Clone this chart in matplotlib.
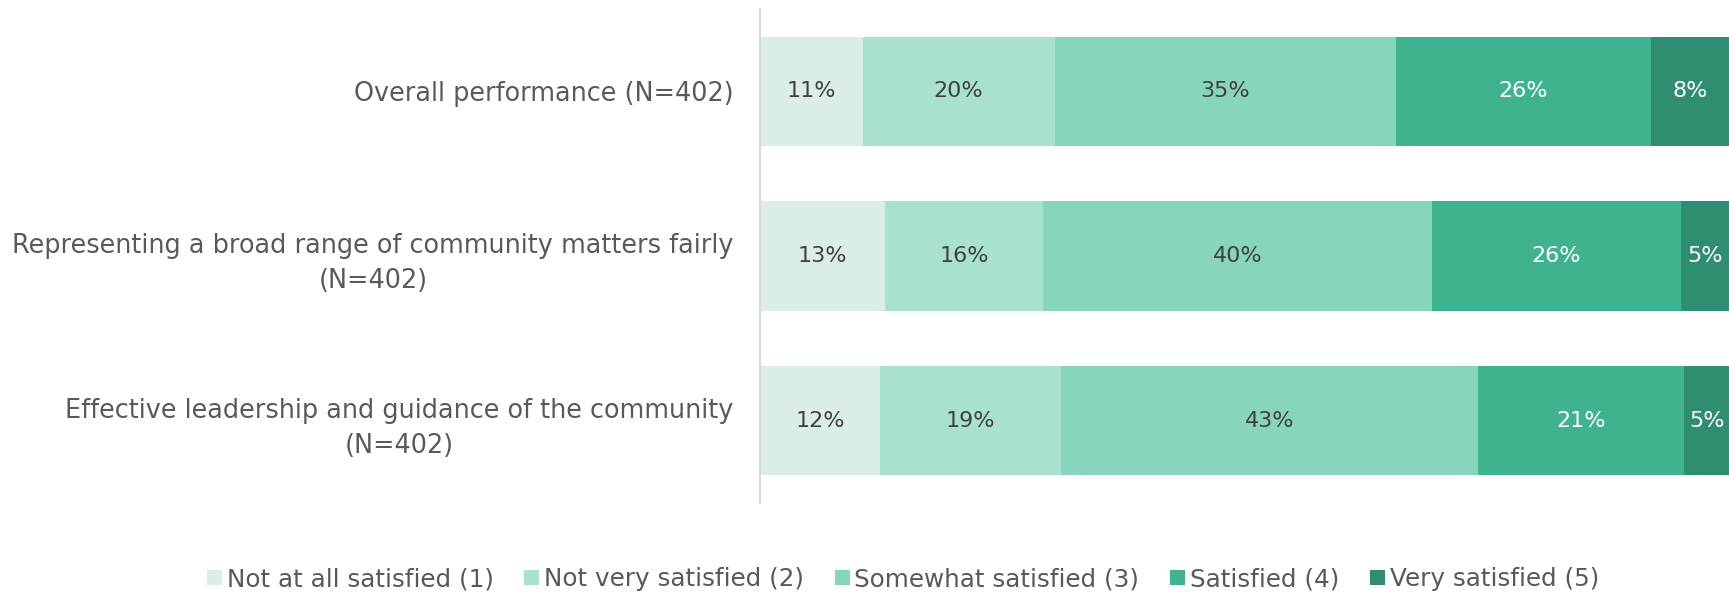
import numpy as np
import matplotlib
matplotlib.use('Agg')
import matplotlib.pyplot as plt

plt.rcParams['font.family'] = ['DejaVu Sans']

categorias = ['Overall performance (N=402)',
              'Representing a broad range of community matters fairly\n(N=402)',
              'Effective leadership and guidance of the community\n(N=402)']
niveles = ['Not at all satisfied (1)', 'Not very satisfied (2)', 'Somewhat satisfied (3)',
           'Satisfied (4)', 'Very satisfied (5)']
# porcentajes por nivel (fila = nivel, columna = categoria)
nada = [10.6, 12.9, 12.4]
poco = [19.8, 16.3, 18.7]
algo = [35.2, 40.2, 43.0]
satisfecho = [26.4, 25.6, 21.3]
muy = [8.0, 5.0, 4.6]

colores = ['#DAEEE7', '#A9E1D0', '#88D5BE', '#3FB390', '#2F8E72']
color_texto = ['#404040', '#404040', '#404040', 'white', 'white']

fig = plt.figure(figsize=(17.29, 5.97), dpi=100)
ax = fig.add_axes([760 / 1729, 1 - 503 / 597, 1 - 760 / 1729, 494 / 597])

y = np.arange(len(categorias))
izq = np.zeros(len(categorias))
for serie, nombre, c, ct in zip([nada, poco, algo, satisfecho, muy], niveles, colores, color_texto):
    vals = np.array(serie)
    barras = ax.barh(y, vals, left=izq, height=0.665, color=c, label=nombre)
    ax.bar_label(barras, labels=[f'{v:.0f}%' for v in vals], label_type='center',
                 color=ct, fontsize=16)
    izq += vals

ax.set_xlim(0, 100)
ax.set_ylim(-0.5, 2.5)
ax.invert_yaxis()
ax.set_yticks(y)
ax.set_yticklabels(categorias, fontsize=18.4, color='#595959', linespacing=1.45)
for lbl in ax.get_yticklabels():
    lbl.set_multialignment('center')
ax.tick_params(axis='y', length=0, pad=19)
ax.set_xticks([])
for lado in ['top', 'right', 'bottom']:
    ax.spines[lado].set_visible(False)
ax.spines['left'].set_color('#d9d9d9')
ax.spines['left'].set_linewidth(1.5)

fig.legend(loc='center', bbox_to_anchor=(903 / 1729, 1 - 579 / 597), ncol=5, frameon=False,
           fontsize=17.7, labelcolor='#595959', handlelength=0.6, handleheight=0.6,
           handletextpad=0.2, columnspacing=1.25)

fig.savefig('out.png', dpi=100)
